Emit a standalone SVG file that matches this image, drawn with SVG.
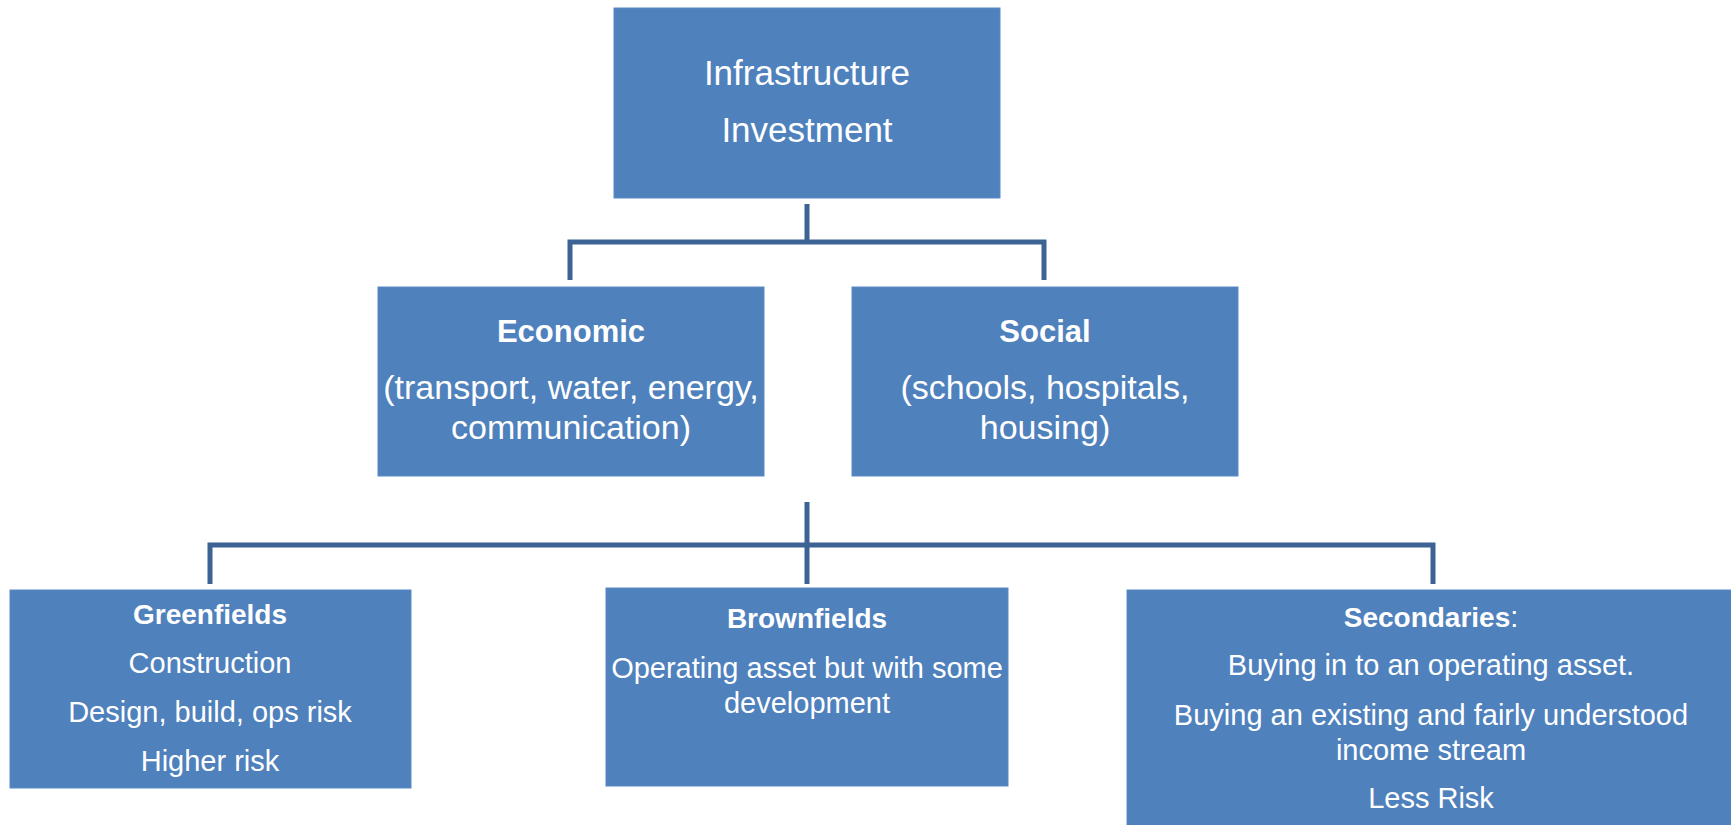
<svg xmlns="http://www.w3.org/2000/svg" width="1731" height="825" viewBox="0 0 1731 825">
  <style>
    .box { fill: #4F81BD; stroke: #5B8AC4; stroke-width: 1; }
    .link { fill: none; stroke: #3C6394; stroke-width: 5; stroke-linejoin: miter; }
    text { font-family: "Liberation Sans", Arial, sans-serif; fill: #FFFFFF; text-anchor: middle; }
    .t1 { font-size: 35px; }
    .t2 { font-size: 34px; }
    .t2b { font-size: 31px; font-weight: bold; }
    .t3 { font-size: 29px; }
    .t3b { font-size: 28px; font-weight: bold; }
  </style>

  <rect width="1731" height="825" fill="#FFFFFF"/>

  <!-- tree connectors -->
  <g id="connectors">
    <path class="link" d="M807,204 V242"/>
    <path class="link" d="M570,280 V242 H1044 V280"/>
    <path class="link" d="M807,502 V584"/>
    <path class="link" d="M210,584 V545 H1433 V584"/>
  </g>

  <g id="node-infrastructure">
    <rect class="box" x="614" y="8" width="386" height="190"/>
    <text class="t1" x="807" y="85">Infrastructure</text>
    <text class="t1" x="807" y="142">Investment</text>
  </g>

  <g id="node-economic">
    <rect class="box" x="378" y="287" width="386" height="189"/>
    <text class="t2b" x="571" y="342">Economic</text>
    <text class="t2" x="571" y="399">(transport, water, energy,</text>
    <text class="t2" x="571" y="439">communication)</text>
  </g>

  <g id="node-social">
    <rect class="box" x="852" y="287" width="386" height="189"/>
    <text class="t2b" x="1045" y="342">Social</text>
    <text class="t2" x="1045" y="399">(schools, hospitals,</text>
    <text class="t2" x="1045" y="439">housing)</text>
  </g>

  <g id="node-greenfields">
    <rect class="box" x="10" y="590" width="401" height="198"/>
    <text class="t3b" x="210" y="624">Greenfields</text>
    <text class="t3" x="210" y="673">Construction</text>
    <text class="t3" x="210" y="722">Design, build, ops risk</text>
    <text class="t3" x="210" y="771">Higher risk</text>
  </g>

  <g id="node-brownfields">
    <rect class="box" x="606" y="588" width="402" height="198"/>
    <text class="t3b" x="807" y="628">Brownfields</text>
    <text class="t3" x="807" y="678">Operating asset but with some</text>
    <text class="t3" x="807" y="713">development</text>
  </g>

  <g id="node-secondaries">
    <rect class="box" x="1127" y="590" width="610" height="240"/>
    <text class="t3" x="1431" y="627"><tspan font-weight="bold" font-size="28px">Secondaries</tspan>:</text>
    <text class="t3" x="1431" y="675">Buying in to an operating asset.</text>
    <text class="t3" x="1431" y="725">Buying an existing and fairly understood</text>
    <text class="t3" x="1431" y="760">income stream</text>
    <text class="t3" x="1431" y="808">Less Risk</text>
  </g>
</svg>
